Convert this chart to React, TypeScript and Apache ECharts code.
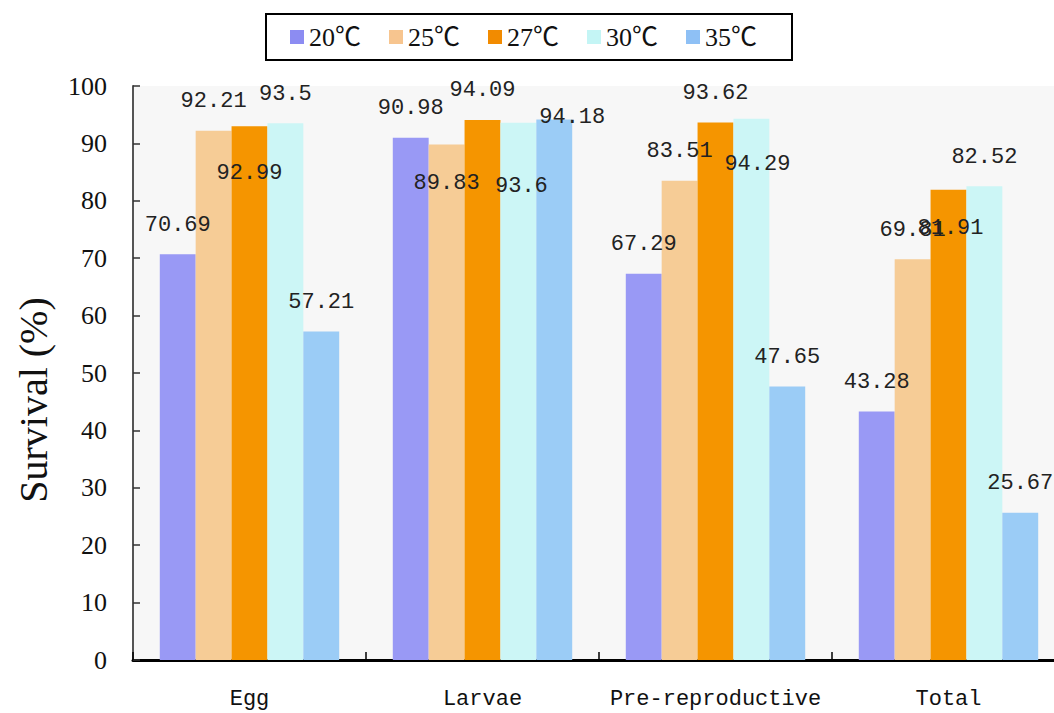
import React, { useEffect, useRef } from "react";
import * as echarts from "echarts";

const categories = ["Egg", "Larvae", "Pre-reproductive", "Total"];
const seriesNames = ["20℃", "25℃", "27℃", "30℃", "35℃"];
const s20 = [70.69, 90.98, 67.29, 43.28];
const s25 = [92.21, 89.83, 83.51, 69.81];
const s27 = [92.99, 94.09, 93.62, 81.91];
const s30 = [93.5, 93.6, 94.29, 82.52];
const s35 = [57.21, 94.18, 47.65, 25.67];
const seriesValues = [s20, s25, s27, s30, s35];

const barColors = ["#9999f5", "#f6cc96", "#f59500", "#ccf6f6", "#9bccf6"];
const legendColors = ["#8c8cf2", "#f7c58f", "#f28b00", "#c4f5f5", "#8ec0f5"];

// label offsets (series index, category index) -> [dx, dy]
const labelShift: Record<string, [number, number]> = {
  "2-0": [0, 76],
  "1-1": [0, 68],
  "3-1": [3, 93],
  "4-1": [18, 27],
  "3-2": [6, 75],
  "2-3": [2, 68],
};

export default function App() {
  const ref = useRef<HTMLDivElement>(null);
  useEffect(() => {
    if (!ref.current) return;
    const chart = echarts.init(ref.current, undefined, { renderer: "svg" });
    const series = seriesValues.map((vals, si) => ({
      name: seriesNames[si],
      type: "bar",
      barGap: "0%",
      barCategoryGap: "23%",
      itemStyle: { color: barColors[si] },
      label: {
        show: true,
        position: "top",
        distance: 18,
        fontFamily: "'Liberation Mono', monospace",
        fontSize: 22,
        color: "#222",
      },
      data: vals.map((v, ci) => {
        const sh = labelShift[`${si}-${ci}`];
        return sh ? { value: v, label: { offset: sh } } : { value: v };
      }),
    }));
    chart.setOption({
      animation: false,
      backgroundColor: "#fff",
      grid: {
        left: 133,
        top: 86,
        width: 932,
        bottom: 53,
        show: true,
        backgroundColor: "#f7f7f7",
        borderWidth: 0,
        containLabel: false,
        outerBoundsMode: "none",
      },
      legend: {
        left: 266,
        top: 14,
        itemWidth: 14,
        itemHeight: 14,
        itemGap: 0,
        icon: "rect",
        borderColor: "#000",
        borderWidth: 2,
        backgroundColor: "#fff",
        padding: [10, 7, 10, 24],
        textStyle: {
          fontFamily: "'Liberation Serif', 'Noto Sans CJK SC', serif",
          fontSize: 26,
          color: "#111",
          width: 80,
          lineHeight: 26,
        },
        data: seriesNames.map((n, i) => ({ name: n, itemStyle: { color: legendColors[i] } })),
      },
      xAxis: {
        type: "category",
        data: categories,
        boundaryGap: true,
        axisLine: { lineStyle: { color: "#000", width: 3 } },
        axisTick: { show: true, inside: true, length: 8, alignWithLabel: false, lineStyle: { color: "#000", width: 1.5 } },
        axisLabel: {
          interval: 0,
          margin: 28,
          fontFamily: "'Liberation Mono', monospace",
          fontSize: 22,
          color: "#111",
        },
        splitLine: { show: false },
      },
      yAxis: {
        type: "value",
        min: 0,
        max: 100,
        interval: 10,
        axisLine: { show: true, lineStyle: { color: "#555", width: 2 } },
        axisTick: { show: true, inside: true, length: 7, lineStyle: { color: "#333", width: 1.5 } },
        axisLabel: {
          margin: 26,
          fontFamily: "'Liberation Serif', serif",
          fontSize: 26,
          color: "#111",
        },
        splitLine: { show: false },
      },
      graphic: [
        {
          type: "text",
          x: 33,
          y: 400,
          rotation: Math.PI / 2,
          style: {
            text: "Survival (%)",
            fontFamily: "'Liberation Serif', serif",
            fontSize: 40,
            fill: "#111",
            align: "center",
            verticalAlign: "middle",
          },
        },
      ],
      series,
    });
    return () => chart.dispose();
  }, []);
  return (
    <div
      ref={ref}
      style={{ position: "absolute", left: 0, top: 0, width: 1054, height: 713 }}
    />
  );
}
